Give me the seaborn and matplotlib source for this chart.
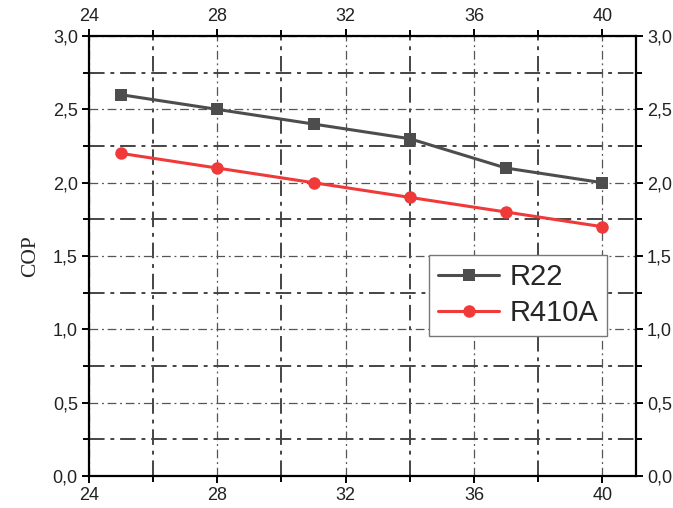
import matplotlib
matplotlib.use("Agg")
import matplotlib.pyplot as plt
from matplotlib.ticker import MultipleLocator, FuncFormatter
import seaborn as sns
import pandas as pd

# Condensing temperature points and COP values for each refrigerant
temperature = [25, 28, 31, 34, 37, 40]
cop_r22 = [2.6, 2.5, 2.4, 2.3, 2.1, 2.0]
cop_r410a = [2.2, 2.1, 2.0, 1.9, 1.8, 1.7]
series_names = ["R22", "R410A"]
series_colors = ["#4d4d4d", "#f03a3a"]

df = pd.DataFrame({
    "T": temperature * 2,
    "COP": cop_r22 + cop_r410a,
    "Refrigerant": [series_names[0]] * len(temperature) + [series_names[1]] * len(temperature),
})

sns.set_theme(style="white")
plt.rcParams["font.family"] = ["Liberation Sans", "DejaVu Sans"]

fig = plt.figure(figsize=(6.73, 5.08), dpi=100)
ax = fig.add_axes([0.1322, 0.063, 0.8128, 0.866])

sns.lineplot(
    data=df, x="T", y="COP", hue="Refrigerant", style="Refrigerant",
    palette=dict(zip(series_names, series_colors)),
    markers={"R22": "s", "R410A": "o"}, dashes=False,
    linewidth=2.2, markersize=9, markeredgewidth=0, ax=ax,
)

ax.set_xlim(24, 41.05)
ax.set_ylim(0, 3.0)
ax.xaxis.set_major_locator(MultipleLocator(4))
ax.xaxis.set_minor_locator(MultipleLocator(2))
ax.yaxis.set_major_locator(MultipleLocator(0.5))
ax.yaxis.set_minor_locator(MultipleLocator(0.25))
ax.yaxis.set_major_formatter(FuncFormatter(lambda v, p: f"{v:.1f}".replace(".", ",")))
ax.xaxis.set_major_formatter(FuncFormatter(lambda v, p: f"{v:.0f}"))

ax.grid(which="major", color="#555555", linewidth=0.9, linestyle=(0, (7, 3, 1.5, 3)))
ax.grid(which="minor", color="#444444", linewidth=1.4, linestyle=(0, (8, 3, 2, 3)))
ax.set_axisbelow(True)

for s in ax.spines.values():
    s.set_visible(True)
    s.set_color("black")
    s.set_linewidth(1.6)

ax.tick_params(which="both", direction="out", top=True, right=True,
               labeltop=True, labelright=True, bottom=True, left=True,
               color="black", width=1.4, labelsize=13, labelcolor="#222222", pad=3)
ax.tick_params(which="major", length=5)
ax.tick_params(which="minor", length=4)

ax.set_xlabel("")
ax.set_ylabel("COP", family=["Liberation Serif", "DejaVu Serif"], fontsize=15.5, labelpad=9)

leg = ax.legend(loc="upper left", bbox_to_anchor=(0.622, 0.503), fontsize=21,
                frameon=True, fancybox=False, edgecolor="#777777", framealpha=1,
                handlelength=2.1, borderpad=0.3, labelspacing=0.25, handletextpad=0.35,
                borderaxespad=0)
leg.get_frame().set_linewidth(1.0)

fig.savefig("out.png", dpi=100)
